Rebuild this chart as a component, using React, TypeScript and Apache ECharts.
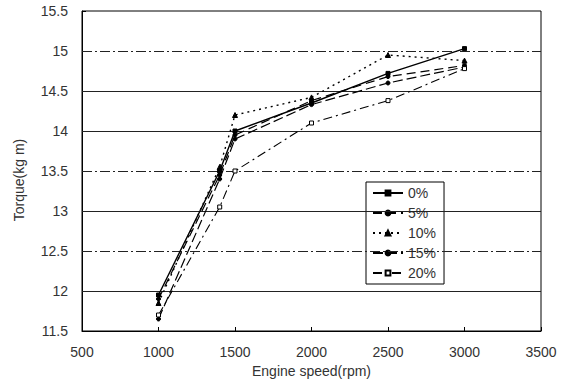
import React, { useEffect, useRef } from "react";
import * as echarts from "echarts";

const speeds = [1000, 1400, 1500, 2000, 2500, 3000];
const seriesNames = ["0%", "5%", "10%", "15%", "20%"];
const torque0 = [11.95, 13.5, 14.0, 14.35, 14.72, 15.03];
const torque5 = [11.9, 13.45, 13.95, 14.38, 14.68, 14.82];
const torque10 = [11.85, 13.55, 14.2, 14.42, 14.95, 14.88];
const torque15 = [11.65, 13.4, 13.9, 14.33, 14.6, 14.8];
const torque20 = [11.7, 13.05, 13.5, 14.1, 14.38, 14.78];
const solidGridLines = [12, 13, 14, 14.5];
const dashDotGridLines = [12.5, 13.5, 15];

const FONT = "Liberation Sans";
const TEXT = "#333";

export default function App() {
  const ref = useRef<HTMLDivElement>(null);
  useEffect(() => {
    if (!ref.current) return;
    const chart = echarts.init(ref.current, undefined, { renderer: "svg" });
    const allData = [torque0, torque5, torque10, torque15, torque20];
    const styles = [
      { type: "solid" as any, width: 1.4, symbol: "rect", size: 4, fill: "#000" },
      { type: [9, 5] as any, width: 1.2, symbol: "circle", size: 4, fill: "#000" },
      { type: [2, 4] as any, width: 1.4, symbol: "triangle", size: 5, fill: "#000" },
      { type: [10, 4] as any, width: 1.2, symbol: "circle", size: 4, fill: "#000" },
      { type: [9, 4, 2, 4] as any, width: 1.1, symbol: "rect", size: 4, fill: "#fff" },
    ];
    const series: any[] = seriesNames.map((name, i) => ({
      name,
      type: "line",
      data: speeds.map((s, j) => [s, allData[i][j]]),
      symbol: styles[i].symbol,
      symbolSize: styles[i].size,
      showSymbol: true,
      lineStyle: { color: "#000", width: styles[i].width, type: styles[i].type },
      itemStyle: { color: styles[i].fill, borderColor: "#000", borderWidth: 1 },
      z: 5,
    }));
    series.push({
      type: "line",
      data: [],
      silent: true,
      markLine: {
        silent: true,
        symbol: "none",
        label: { show: false },
        data: [
          ...solidGridLines.map((v) => ({
            yAxis: v,
            lineStyle: { color: "#222", width: 1, type: "solid" },
          })),
          ...dashDotGridLines.map((v) => ({
            yAxis: v,
            lineStyle: { color: "#222", width: 1, type: [10, 3, 2, 3] },
          })),
        ],
      },
      z: 1,
    });
    chart.setOption({
      animation: false,
      backgroundColor: "#fff",
      textStyle: { fontFamily: FONT },
      grid: {
        left: 82,
        right: 28,
        top: 11,
        bottom: 56,
        show: true,
        borderColor: "#000",
        borderWidth: 1,
        backgroundColor: "transparent",
      },
      legend: {
        data: seriesNames,
        orient: "vertical",
        left: 366,
        top: 182,
        itemWidth: 30,
        itemHeight: 6,
        itemGap: 6,
        padding: [4, 8, 4, 6],
        backgroundColor: "#fff",
        borderColor: "#000",
        borderWidth: 1,
        textStyle: { fontFamily: FONT, fontSize: 14, color: TEXT },
      },
      graphic: [
        {
          type: "text",
          x: 19,
          y: 180,
          rotation: Math.PI / 2,
          style: {
            text: "Torque(kg m)",
            fontFamily: FONT,
            fontSize: 14,
            fill: TEXT,
            align: "center",
            verticalAlign: "middle",
          },
        },
      ],
      xAxis: {
        type: "value",
        min: 500,
        max: 3500,
        interval: 500,
        name: "Engine speed(rpm)",
        nameLocation: "middle",
        nameGap: 32,
        nameTextStyle: { fontFamily: FONT, fontSize: 14, color: TEXT },
        axisLine: { show: true, lineStyle: { color: "#000", width: 1 } },
        axisTick: { show: true, inside: true, length: 4, lineStyle: { color: "#000" } },
        axisLabel: {
          fontFamily: FONT,
          fontSize: 14,
          color: TEXT,
          margin: 14,
          formatter: (v: number) => String(v),
        },
        splitLine: { show: false },
      },
      yAxis: {
        type: "value",
        min: 11.5,
        max: 15.5,
        interval: 0.5,
        axisLine: { show: true, lineStyle: { color: "#000", width: 1 } },
        axisTick: { show: true, inside: true, length: 4, lineStyle: { color: "#000" } },
        axisLabel: {
          fontFamily: FONT,
          fontSize: 14,
          color: TEXT,
          margin: 14,
          formatter: (v: number) => String(v),
        },
        splitLine: { show: false },
      },
      series,
    });
    return () => chart.dispose();
  }, []);
  return (
    <div
      ref={ref}
      style={{ position: "fixed", left: 0, top: 0, width: 569, height: 387, background: "#fff" }}
    />
  );
}
